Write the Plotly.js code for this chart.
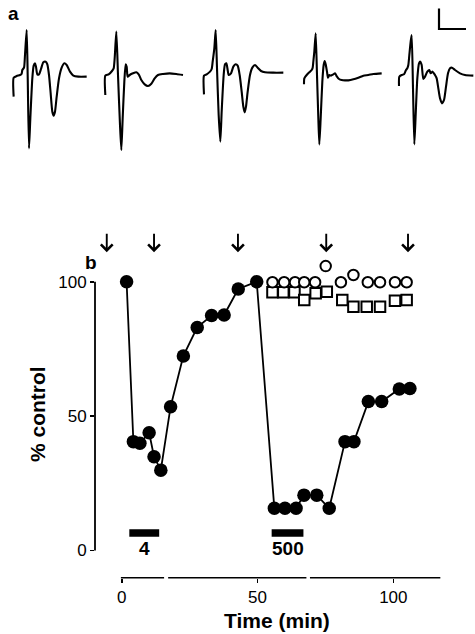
<!DOCTYPE html>
<html>
<head>
<meta charset="utf-8">
<script src="https://cdn.plot.ly/plotly-3.0.1.min.js"></script>
<style>html,body{margin:0;padding:0;background:#fff;}#chart{width:475px;height:634px;}</style>
</head>
<body>
<div id="chart"></div>
<script>
// ---------- Panel b data ----------
const filledTime = [1.8,4.3,6.7,10.1,11.9,14.4,18.0,22.7,27.8,33.1,37.7,42.9,49.7,56.2,60.1,64.2,67.1,71.8,76.4,82.2,85.5,90.8,95.7,102.2,106.1];
const filledPct  = [100,40.5,39.9,43.8,34.9,29.9,53.5,72.4,83.0,87.4,87.6,97.3,100,15.7,15.7,15.7,20.6,20.6,15.7,40.5,40.5,55.4,55.4,60.1,60.3];

const circleTime = [55.5,59.8,63.8,67.2,71.2,75.1,80.7,85.3,90.6,95.1,100.6,104.9];
const circlePct  = [99.8,99.8,99.8,99.8,99.8,105.8,99.8,102.5,99.8,99.8,99.8,99.8];

const squareTime = [55.5,59.5,63.6,67.2,71.4,75.5,81.2,85.3,90.2,95.1,100.6,104.9];
const squarePct  = [96.1,96.1,96.1,93.2,95.7,96.3,93.2,90.7,90.7,90.7,92.9,93.2];

const arrowTimes = [-5.5, 11.9, 42.8, 75.3, 105.4];

const drugStart = [2.8, 55.2];
const drugEnd   = [13.8, 66.9];
const drugLabel = ['4', '500'];

const xTickVals = [0, 50, 100];
const yTickVals = [0, 50, 100];
const xAxisSegStart = [-0.3, 17.1, 69.3];
const xAxisSegEnd   = [15.6, 68.0, 117.3];

// ---------- Panel a data (waveforms, sample units, depth downward) ----------
const w1t = [26,26,35,45,50,52,57,60,65,68,72,76,82,86,90,93,97,102,108,115,122,127,132,137,142,146,150,155,162,170,178,185,195,205,220,245];
const w1v = [215,158,153,150,146,135,128,90,15,150,370,280,160,122,115,125,148,148,132,112,110,118,150,205,260,272,260,215,160,128,115,120,140,152,155,155];

const w2t = [22,22,32,42,47,50,55,60,66,70,74,79,83,86,89,95,105,115,122,130,140,150,160,170,180,195,215,235,255];
const w2v = [210,152,148,138,130,100,20,150,300,375,280,170,118,125,155,150,145,142,148,165,178,183,176,160,150,147,145,147,150];

const w3t = [27,27,35,45,50,53,58,62,66,71,76,80,86,90,94,98,101,108,115,122,128,134,140,145,149,153,158,165,172,180,188,198,210,235,265];
const w3v = [208,152,148,140,132,110,70,15,130,270,350,260,150,118,115,135,150,145,125,118,122,150,200,245,262,245,200,150,128,120,128,138,142,143,143];

const w4t = [27,28,35,45,50,53,55,58,62,66,70,73,77,82,86,89,92,96,99,103,108,115,120,126,132,140,150,160,175,190,205,220,235,260];
const w4v = [178,160,150,140,135,128,110,80,25,150,280,358,280,170,120,108,118,140,158,150,152,148,145,155,162,165,166,166,163,158,152,150,147,145];

const w5t = [27,28,35,42,48,52,55,58,62,65,69,73,77,82,87,91,95,100,105,112,118,122,128,135,140,145,150,156,162,168,174,180,186,195,210,225,250];
const w5v = [243,215,210,208,195,190,180,150,110,90,250,418,330,220,175,170,180,222,215,200,195,205,200,210,220,250,280,295,285,245,205,190,188,195,205,210,212];

// ---------- layout helpers ----------
const W = 475, H = 634;
const px = v => v / W;
const py = v => 1 - v / H;
const FONT = 'Liberation Sans, Arial, Helvetica, sans-serif';

const waves = [[w1t,w1v],[w2t,w2v],[w3t,w3v],[w4t,w4v],[w5t,w5v]];
const waveOrigin = [[15,75],[294,75],[585,75],[885,75],[1170,15]];

const traces = [];
waves.forEach((w, i) => {
  traces.push({
    x: w[0].map(t => t + waveOrigin[i][0]),
    y: w[1].map(v => v + waveOrigin[i][1]),
    xaxis: 'x2', yaxis: 'y2',
    mode: 'lines', line: {color: '#000', width: 2.1, shape: 'spline', smoothing: 0.6},
    hoverinfo: 'skip'
  });
});

traces.push({
  x: filledTime, y: filledPct, mode: 'lines+markers',
  line: {color: '#000', width: 1.8},
  marker: {color: '#000', size: 13.5, symbol: 'circle'},
  cliponaxis: false
});
traces.push({
  x: squareTime, y: squarePct, mode: 'markers',
  marker: {color: '#fff', size: 10.5, symbol: 'square', line: {color: '#000', width: 2}},
  cliponaxis: false
});
traces.push({
  x: circleTime, y: circlePct, mode: 'markers',
  marker: {color: '#fff', size: 10.5, symbol: 'circle', line: {color: '#000', width: 2}},
  cliponaxis: false
});

const shapes = [];
// y axis line (0..100)
shapes.push({type: 'line', xref: 'x domain', yref: 'y', x0: 0, x1: 0, y0: 0, y1: 100, line: {color: '#000', width: 1.8}});
// broken x axis
xAxisSegStart.forEach((s, i) => {
  shapes.push({type: 'line', xref: 'x', yref: 'y domain', x0: s, x1: xAxisSegEnd[i], y0: 0, y1: 0, line: {color: '#000', width: 1.6}});
});
// drug bars
drugStart.forEach((s, i) => {
  shapes.push({type: 'rect', xref: 'x', yref: 'y', x0: s, x1: drugEnd[i], y0: 5.1, y1: 7.9, fillcolor: '#000', line: {width: 0}});
});
// scale bar (panel a)
shapes.push({type: 'path', xref: 'x2', yref: 'y2', path: 'M1317,25.5 L1317,87 L1398,87', line: {color: '#000', width: 2.2}});

const annotations = [];
arrowTimes.forEach(t => {
  annotations.push({x: t, y: 111, xref: 'x', yref: 'y', text: '', showarrow: true,
    ax: 0, ay: -20, arrowhead: 4, arrowsize: 1.2, arrowwidth: 1.9, arrowcolor: '#000', standoff: 0});
});
drugLabel.forEach((lab, i) => {
  annotations.push({x: (drugStart[i] + drugEnd[i]) / 2, y: py(548), xref: 'x', yref: 'paper', text: '<b>' + lab + '</b>',
    showarrow: false, font: {family: FONT, size: 19, color: '#000'}, xanchor: 'center', yanchor: 'middle'});
});
annotations.push({x: px(276.7), y: py(620), xref: 'paper', yref: 'paper', text: '<b>Time (min)</b>', showarrow: false,
  font: {family: FONT, size: 21, color: '#000'}, xanchor: 'center', yanchor: 'middle'});
annotations.push({x: px(37), y: py(414), xref: 'paper', yref: 'paper', text: '<b>% control</b>', showarrow: false, textangle: -90,
  font: {family: FONT, size: 21, color: '#000'}, xanchor: 'center', yanchor: 'middle'});
annotations.push({x: px(91), y: py(262), xref: 'paper', yref: 'paper', text: '<b>b</b>', showarrow: false,
  font: {family: FONT, size: 19, color: '#000'}, xanchor: 'center', yanchor: 'middle'});
annotations.push({x: px(13.5), y: py(14), xref: 'paper', yref: 'paper', text: '<b>a</b>', showarrow: false,
  font: {family: FONT, size: 19, color: '#000'}, xanchor: 'center', yanchor: 'middle'});

const layout = {
  width: W, height: H,
  margin: {l: 0, r: 0, t: 0, b: 0, pad: 0},
  paper_bgcolor: '#fff', plot_bgcolor: 'rgba(0,0,0,0)',
  showlegend: false,
  font: {family: FONT, color: '#000'},
  xaxis: {
    domain: [95 / W, 455 / W], range: [-9.83, 122.7],
    tickvals: xTickVals, ticktext: xTickVals.map(String),
    ticks: 'outside', ticklen: 4, tickwidth: 1.6, tickcolor: '#000',
    showline: false, showgrid: false, zeroline: false,
    tickfont: {family: FONT, size: 17, color: '#000'},
    anchor: 'y', fixedrange: true
  },
  yaxis: {
    domain: [1 - 577.7 / H, 1 - 225 / H], range: [-10.12, 121.1],
    tickvals: yTickVals, ticktext: yTickVals.map(String),
    ticks: 'outside', ticklen: 4, tickwidth: 1.6, tickcolor: '#000',
    showline: false, showgrid: false, zeroline: false,
    tickfont: {family: FONT, size: 17, color: '#000'},
    anchor: 'x', fixedrange: true
  },
  xaxis2: {domain: [0, 1], range: [0, 1425], visible: false, anchor: 'y2', fixedrange: true},
  yaxis2: {domain: [0.7, 1], range: [570.6, 0], visible: false, anchor: 'x2', fixedrange: true},
  shapes: shapes,
  annotations: annotations
};

Plotly.newPlot('chart', traces, layout, {staticPlot: true, displayModeBar: false});
</script>
</body>
</html>
